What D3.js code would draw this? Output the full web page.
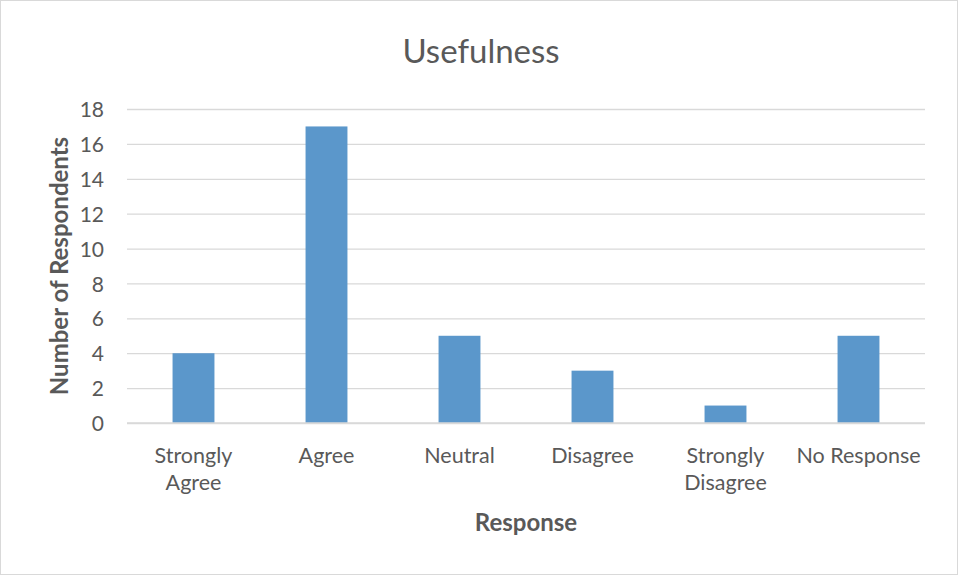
<!DOCTYPE html>
<html>
<head>
<meta charset="utf-8">
<script src="https://cdn.jsdelivr.net/npm/d3@7"></script>
<style>
  html, body { margin: 0; padding: 0; background: #fff; }
  svg { display: block; }
</style>
</head>
<body>
<svg id="chart" width="961" height="575"></svg>
<script>
// Survey responses on perceived usefulness
const categories = [["Strongly", "Agree"], ["Agree"], ["Neutral"], ["Disagree"], ["Strongly", "Disagree"], ["No Response"]];
const counts = [4, 17, 5, 3, 1, 5];
const yTicks = [0, 2, 4, 6, 8, 10, 12, 14, 16, 18];
const chartTitle = "Usefulness";
const xTitle = "Response";
const yTitle = "Number of Respondents";

const W = 961, H = 575;
const margin = { left: 127, right: 36, top: 109, bottom: 152 };
const font = "Lato, 'Open Sans', sans-serif";
const textColor = "#595959";
const gridColor = "#d9d9d9";
const barColor = "#5b97cb";

const svg = d3.select("#chart");

// outer chart frame
svg.append("rect")
  .attr("x", 0.5).attr("y", 0.5)
  .attr("width", W - 4).attr("height", H - 1)
  .attr("fill", "#fff").attr("stroke", gridColor).attr("stroke-width", 1);

const keys = categories.map(c => c.join(" "));
const x = d3.scaleBand()
  .domain(keys)
  .range([margin.left, W - margin.right])
  .paddingInner(0.685)
  .paddingOuter(0.3425);

const y = d3.scaleLinear()
  .domain([0, 18])
  .range([H - margin.bottom, margin.top]);

// horizontal gridlines
const yAxis = d3.axisLeft(y).tickValues(yTicks).tickSize(-(W - margin.right - margin.left)).tickPadding(23);
const gy = svg.append("g")
  .attr("transform", `translate(${margin.left},0)`)
  .call(yAxis);
gy.select(".domain").remove();
gy.selectAll(".tick line").attr("stroke", gridColor).attr("stroke-width", 1.3);
gy.selectAll(".tick text")
  .attr("fill", textColor)
  .attr("dy", "0.36em")
  .style("font-family", font)
  .style("font-size", "21px");

// bars
svg.append("g").selectAll("rect")
  .data(counts)
  .join("rect")
  .attr("x", (d, i) => x(keys[i]))
  .attr("y", d => y(d))
  .attr("width", x.bandwidth())
  .attr("height", d => y(0) - y(d))
  .attr("fill", barColor);

// category axis baseline
svg.append("line")
  .attr("x1", margin.left).attr("x2", W - margin.right)
  .attr("y1", y(0)).attr("y2", y(0))
  .attr("stroke", gridColor).attr("stroke-width", 1.3);

// category labels (wrapped)
const xl = svg.append("g");
categories.forEach((lines, i) => {
  const cx = x(keys[i]) + x.bandwidth() / 2;
  const t = xl.append("text")
    .attr("text-anchor", "middle")
    .attr("fill", textColor)
    .style("font-family", font)
    .style("font-size", "21.5px");
  lines.forEach((ln, j) => {
    t.append("tspan").attr("x", cx).attr("y", 463 + j * 27).text(ln);
  });
});

// title
svg.append("text")
  .attr("x", 481).attr("y", 63)
  .attr("text-anchor", "middle")
  .attr("fill", textColor)
  .style("font-family", font)
  .style("font-size", "33px")
  .text(chartTitle);

// axis titles
svg.append("text")
  .attr("x", (margin.left + W - margin.right) / 2).attr("y", 531)
  .attr("text-anchor", "middle")
  .attr("fill", textColor)
  .style("font-family", font)
  .style("font-weight", "bold")
  .style("font-size", "24px")
  .text(xTitle);

svg.append("text")
  .attr("transform", `translate(68,266) rotate(-90)`)
  .attr("text-anchor", "middle")
  .attr("fill", textColor)
  .style("font-family", font)
  .style("font-weight", "bold")
  .style("font-size", "24px")
  .text(yTitle);
</script>
</body>
</html>
